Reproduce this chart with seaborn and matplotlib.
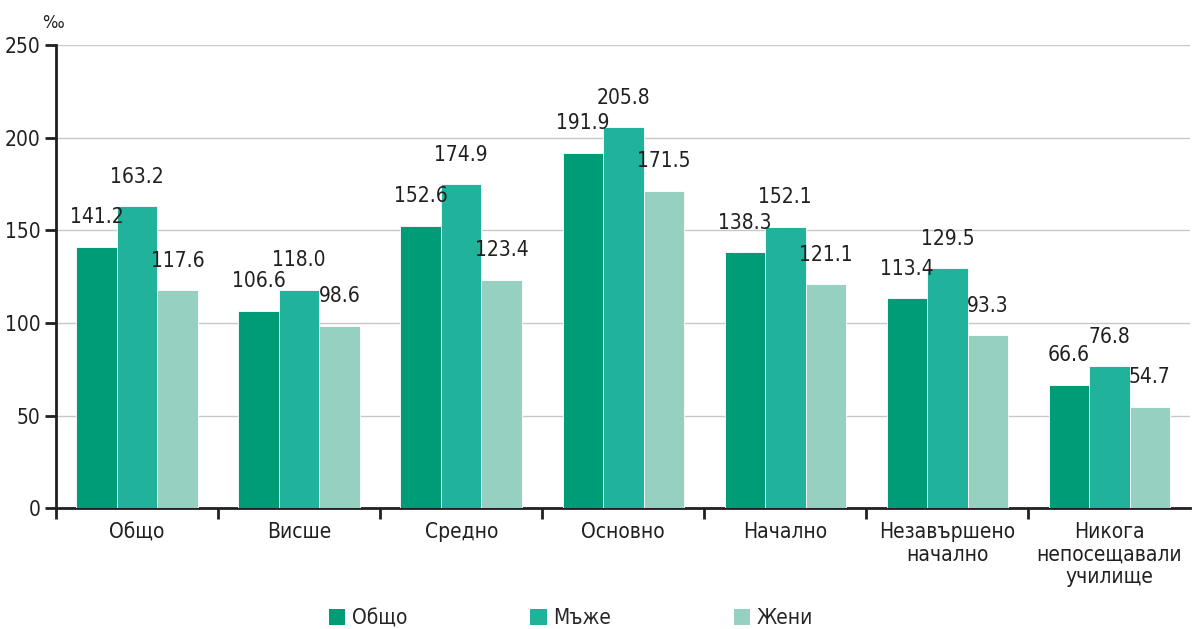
import pandas as pd
import matplotlib.pyplot as plt
import seaborn as sns
from matplotlib.patches import Patch
from matplotlib.ticker import FixedLocator

categories = ['Общо', 'Висше', 'Средно', 'Основно', 'Начално',
              'Незавършено\nначално', 'Никога\nнепосещавали\nучилище']
total = [141.2, 106.6, 152.6, 191.9, 138.3, 113.4, 66.6]
men = [163.2, 118.0, 174.9, 205.8, 152.1, 129.5, 76.8]
women = [117.6, 98.6, 123.4, 171.5, 121.1, 93.3, 54.7]
series_names = ['Общо', 'Мъже', 'Жени']
colors = ['#009B77', '#20B29B', '#96D0C0']

df = pd.DataFrame({
    'category': categories * 3,
    'series': [s for s in series_names for _ in categories],
    'value': total + men + women,
})

sns.set_style('white')
plt.rcParams['font.family'] = ['DejaVu Sans']
plt.rcParams['font.stretch'] = 'condensed'

fs = 15
fig = plt.figure(figsize=(11.94, 6.29), dpi=100)
ax = fig.add_axes([0.047, 0.192, 0.950, 0.736])

sns.barplot(data=df, x='category', y='value', hue='series', palette=colors,
            width=0.75, saturation=1, edgecolor='white', linewidth=0.6,
            legend=False, ax=ax, zorder=3)

for cont in ax.containers:
    ax.bar_label(cont, fmt='%.1f', padding=14, fontsize=fs, color='#231F20')

ax.set_ylim(0, 250)
ax.set_xlim(-0.5, len(categories) - 0.5)
ax.set_yticks([0, 50, 100, 150, 200, 250])
ax.yaxis.grid(True, color='#C8C8C8', linewidth=1, zorder=0)
ax.set_axisbelow(True)

ax.set_xlabel('')
ax.set_ylabel('')
for s in ['top', 'right']:
    ax.spines[s].set_visible(False)
for s in ['left', 'bottom']:
    ax.spines[s].set_color('#231F20')
    ax.spines[s].set_linewidth(2)

ax.tick_params(axis='y', length=8, width=2, color='#231F20', labelsize=fs,
               labelcolor='#231F20', direction='out', left=True)
ax.tick_params(axis='x', which='major', length=0, labelsize=fs,
               labelcolor='#231F20', pad=10)
for lbl in ax.get_xticklabels():
    lbl.set_linespacing(1.15)
ax.xaxis.set_minor_locator(FixedLocator([i - 0.5 for i in range(len(categories))]))
ax.tick_params(axis='x', which='minor', length=8, width=2, color='#231F20',
               direction='out', bottom=True)

fig.text(0.035, 0.955, '‰', fontsize=13, color='#231F20')

handles = [Patch(facecolor=c, edgecolor='none') for c in colors]
fig.legend(handles, series_names, loc='center', bbox_to_anchor=(0.478, 0.017),
           ncol=3, frameon=False, fontsize=fs, handlelength=0.8,
           handleheight=0.8, handletextpad=0.3, columnspacing=5.9)

fig.savefig('out.png', dpi=100)
